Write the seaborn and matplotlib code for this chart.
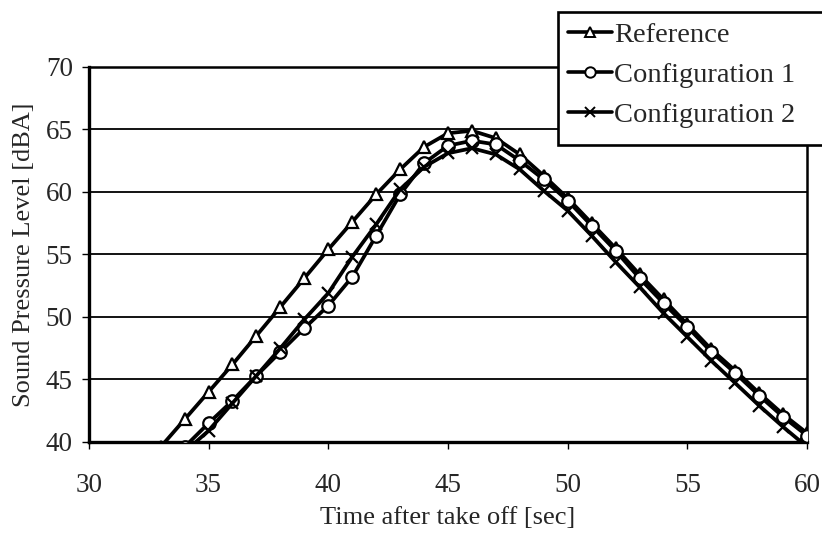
import matplotlib
matplotlib.use("Agg")
import matplotlib.pyplot as plt
import seaborn as sns
import pandas as pd

# time after take off [sec]
time_ref = list(range(33, 61))
time_cfg = list(range(34, 61))

reference = [39.6, 41.8, 44.0, 46.2, 48.5, 50.8, 53.1, 55.4, 57.6, 59.8,
             61.8, 63.6, 64.7, 64.9, 64.3, 63.0, 61.3, 59.5, 57.5, 55.5,
             53.4, 51.4, 49.4, 47.4, 45.7, 43.9, 42.2, 40.7]
config_1 = [39.6, 41.5, 43.3, 45.3, 47.2, 49.1, 50.9, 53.2, 56.5, 59.8,
            62.3, 63.7, 64.1, 63.8, 62.5, 61.0, 59.3, 57.3, 55.3, 53.1,
            51.1, 49.2, 47.2, 45.5, 43.7, 42.0, 40.5]
config_2 = [39.2, 40.9, 43.1, 45.3, 47.5, 49.8, 51.9, 54.8, 57.4, 60.2,
            62.0, 63.1, 63.5, 63.0, 61.8, 60.1, 58.5, 56.5, 54.4, 52.4,
            50.3, 48.4, 46.5, 44.7, 42.9, 41.2, 39.6]

series_names = ["Reference", "Configuration 1", "Configuration 2"]
y_ticks = [40, 45, 50, 55, 60, 65, 70]
x_ticks = [30, 35, 40, 45, 50, 55, 60]

series = {
    "Reference": (time_ref, reference),
    "Configuration 1": (time_cfg, config_1),
    "Configuration 2": (time_cfg, config_2),
}
markers = {"Reference": "^", "Configuration 1": "o", "Configuration 2": "x"}

sns.set_style("white")
plt.rcParams["font.family"] = ["Liberation Serif", "DejaVu Serif"]

fig = plt.figure(figsize=(8.22, 5.4), dpi=100)
ax = fig.add_axes([0.108, 0.1815, 0.874, 0.6945])

# horizontal gridlines
for y in y_ticks[1:-1]:
    ax.axhline(y, color="black", lw=1.3, zorder=1)

for name in series_names:
    t, v = series[name]
    sns.lineplot(x=t, y=v, color="black", marker=markers[name], lw=2.7,
                 markersize=9, markerfacecolor="white",
                 markeredgecolor="black", markeredgewidth=1.6,
                 ax=ax, legend=False, zorder=3)

ax.set_xlim(30, 60)
ax.set_ylim(40, 70)
ax.set_xticks(x_ticks)
ax.set_yticks(y_ticks)
ax.tick_params(axis="both", direction="out", length=5, width=1, color="black",
               labelsize=19.5, bottom=True, left=True)
ax.tick_params(axis="x", pad=17)
ax.tick_params(axis="y", pad=6.5)
for side in ["left", "bottom"]:
    ax.spines[side].set_linewidth(2.4)
for side in ["top", "right"]:
    ax.spines[side].set_linewidth(1.8)
for s in ax.spines.values():
    s.set_color("black")

ax.set_xlabel("Time after take off [sec]", fontsize=19, labelpad=7)
ax.set_ylabel("Sound Pressure Level [dBA]", fontsize=19, labelpad=8)

# legend box sticks out past the right edge of the figure
frame = plt.Rectangle((0.679, 0.7315), 0.34, 0.2465, transform=fig.transFigure,
                      facecolor="white", edgecolor="black", lw=1.9, zorder=5)
fig.patches.append(frame)

handles = [plt.Line2D([], [], color="black", lw=2.6, marker=markers[n],
                      markersize=7.5, markerfacecolor="white",
                      markeredgecolor="black", markeredgewidth=1.4)
           for n in series_names]
leg = fig.legend(handles, series_names, loc="upper left",
                 bbox_to_anchor=(0.679, 0.978), fontsize=20.5, frameon=False,
                 handlelength=1.55, handletextpad=0.05, borderpad=0.35,
                 labelspacing=0.5, borderaxespad=0)
leg.set_zorder(6)

fig.savefig("out.png", dpi=100)
